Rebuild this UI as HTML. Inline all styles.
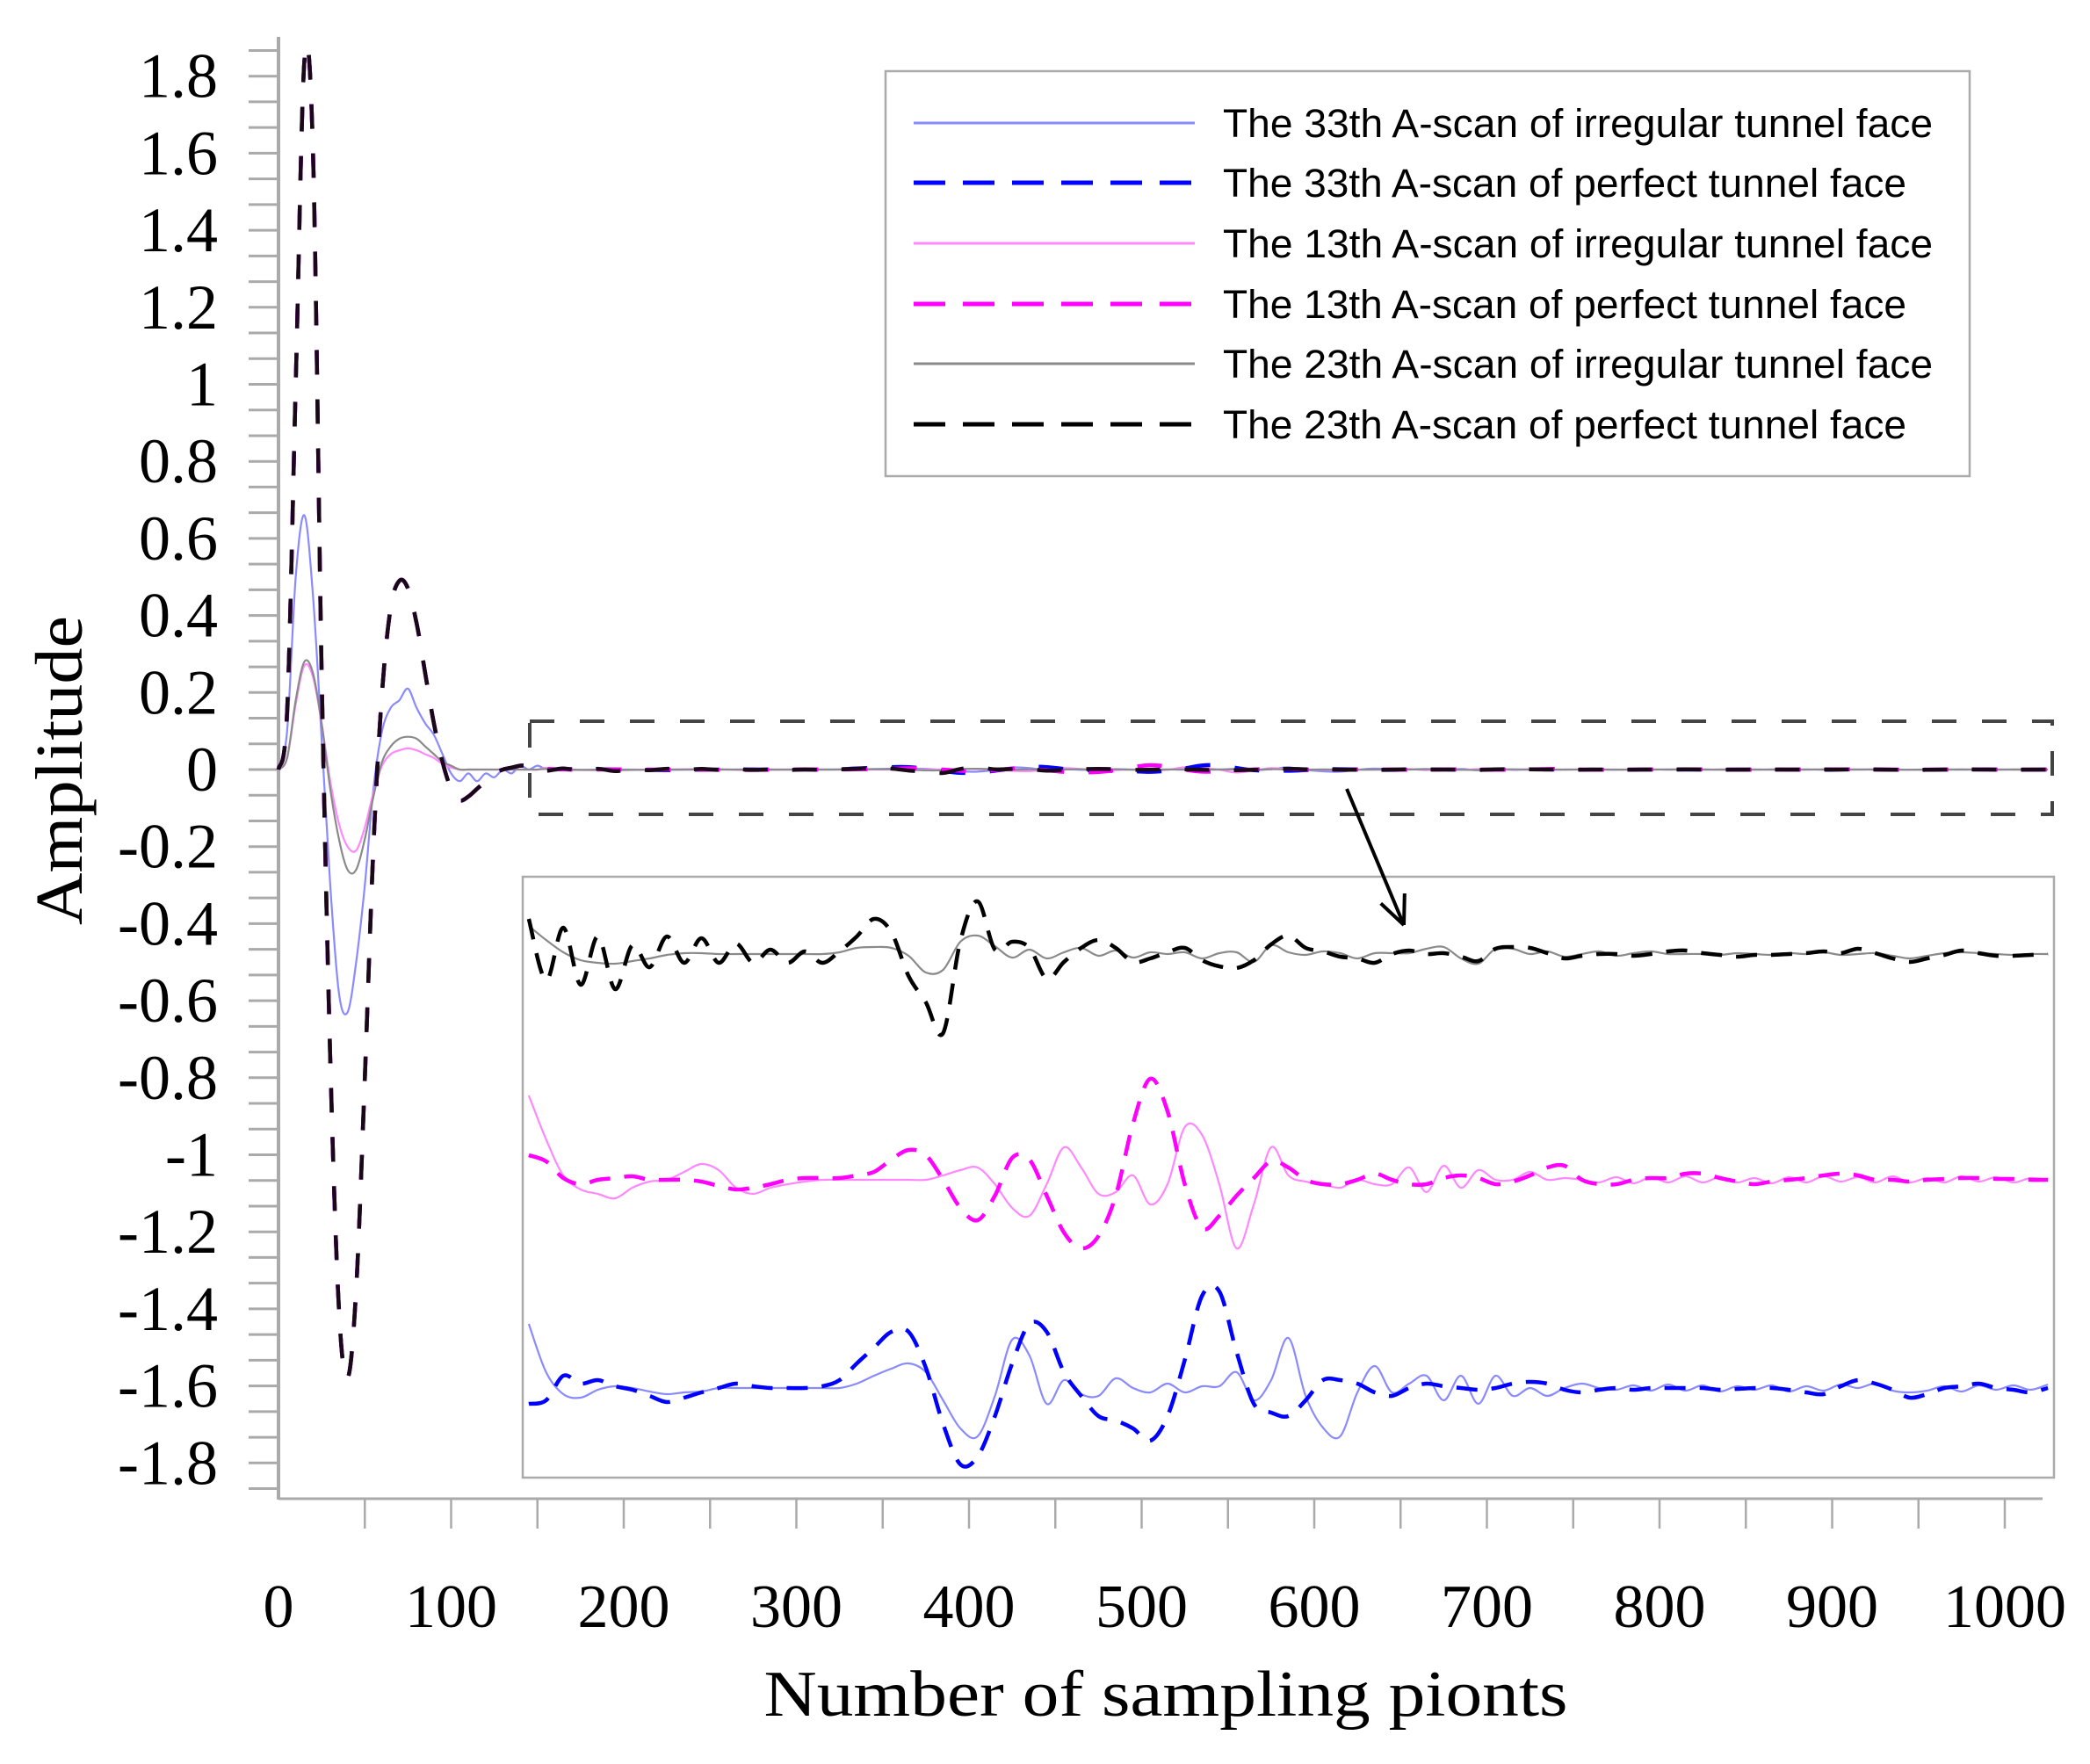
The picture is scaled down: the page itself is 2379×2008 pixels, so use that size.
<!DOCTYPE html>
<html>
<head>
<meta charset="utf-8">
<style>
html,body{margin:0;padding:0;background:#fff;}
svg{display:block;}
</style>
</head>
<body>
<svg id="chart" width="2379" height="2008" viewBox="0 0 2379 2008" xmlns="http://www.w3.org/2000/svg">
  <rect x="0" y="0" width="2379" height="2008" fill="#fff"/>
  <g id="axes"></g>
  <g id="main-series"></g>
  <rect x="603" y="821" width="1733" height="106" fill="none" stroke="#444" stroke-width="4" stroke-dasharray="28 29"/>
  <rect x="595" y="998" width="1743" height="684" fill="#fff" stroke="#aaa" stroke-width="2.5"/>
  <defs><clipPath id="insetClip"><rect x="597" y="1000" width="1739" height="680"/></clipPath></defs>
  <g id="inset-series" clip-path="url(#insetClip)"></g>
  <g id="arrow"></g>
  <g id="legend"></g>
  <text x="93" y="877" transform="rotate(-90 93 877)" text-anchor="middle" font-family="Liberation Serif, serif" font-size="76" textLength="352" lengthAdjust="spacingAndGlyphs" fill="#000">Amplitude</text>
  <text x="1327" y="1953" text-anchor="middle" font-family="Liberation Serif, serif" font-size="74" textLength="915" lengthAdjust="spacingAndGlyphs" fill="#000">Number of sampling pionts</text>
</svg>
<script>
// ---- data: main plot (samples 0..150, step 5), amplitude ----
const headSamples = [0,5,10,15,20,25,30,35,40,45,50,55,60,65,70,75,80,85,90,95,100,105,110,115,120,125,130,135,140,145,150];
const perfectHead = [0,0.15,1.0,1.84,1.6,0.25,-0.75,-1.4,-1.58,-1.35,-0.8,-0.2,0.2,0.42,0.49,0.47,0.38,0.25,0.12,0.02,-0.05,-0.08,-0.07,-0.05,-0.03,-0.01,0,0.005,0.01,0.01,0.005];
const blueSolidHead = [0,0.1,0.5,0.66,0.45,0.08,-0.3,-0.58,-0.63,-0.5,-0.3,-0.05,0.1,0.16,0.18,0.21,0.16,0.12,0.09,0.04,-0.01,-0.03,-0.01,-0.03,-0.01,-0.02,0,-0.01,0.01,0,0.01];
const graySolidHead = [0,0.03,0.18,0.28,0.25,0.12,-0.05,-0.18,-0.26,-0.26,-0.18,-0.07,0.02,0.06,0.08,0.085,0.08,0.06,0.04,0.02,0.01,0,0,0,0,0,0,0,0,0,0];
const magentaSolidHead = [0,0.03,0.17,0.27,0.24,0.12,-0.03,-0.14,-0.2,-0.21,-0.15,-0.06,0.01,0.04,0.05,0.055,0.05,0.04,0.03,0.015,0.005,0,0,0,0,0,0,0,0,0,0];

// ---- data: late-time traces (samples 145..1025, step 10), units of 1e-4 amplitude ----
const tailSamples = [];
for (let s = 145; s <= 1025; s += 10) tailSamples.push(s);
const blueSolidTail = [73,18,-7,-11,-2,2,0,-4,-7,-5,-4,0,0,0,0,0,0,0,0,5,14,22,28,18,-14,-46,-55,-9,55,37,-18,9,-7,-9,11,0,-5,5,-5,2,2,18,-14,9,57,-9,
  -45,-55,-5,25,-5,5,14,-14,14,-18,14,-9,0,-9,0,5,0,-2,3,-3,4,-3,3,-4,2,-2,3,-4,2,-3,4,0,5,-3,-5,-3,2,-4,3,-2,3,-2,4];
const blueDashedTail = [-18,-14,14,5,9,2,-2,-9,-16,-11,-5,0,5,2,0,0,0,2,9,28,46,64,64,23,-41,-87,-78,-32,28,73,64,18,-9,-32,-37,-46,-60,-32,32,105,110,41,-18,-28,-32,-14,
  9,9,5,-5,-9,0,5,2,0,-2,0,5,7,5,-2,-5,-2,0,-2,0,0,0,0,-2,-1,0,0,-2,-5,-7,2,9,5,-2,-11,-7,0,2,5,0,-2,-5,0];
const magentaSolidTail = [96,46,5,-11,-16,-21,-9,-2,0,9,18,11,-9,-16,-9,-5,-2,0,0,0,0,0,0,0,5,11,14,-5,-32,-41,-5,37,14,-16,-14,5,-28,-5,60,51,-5,-78,-28,37,5,-2,
  -5,-9,0,-5,-5,14,-14,16,-9,11,0,0,9,0,2,0,-3,3,-4,3,-3,4,-3,3,-3,2,-4,3,-3,4,-2,3,-3,4,-3,2,-3,4,-2,3,-3,2,0];
const magentaDashedTail = [28,21,2,-5,0,2,4,0,0,0,-2,-7,-11,-9,-5,0,2,2,2,5,9,23,34,28,0,-32,-46,-18,25,23,-18,-60,-78,-64,-18,64,115,78,-5,-55,-41,-18,2,21,14,0,
  -5,-5,0,7,0,-5,-5,2,5,2,-5,-2,5,14,16,0,-5,-5,0,2,2,7,7,2,-2,-5,-2,0,2,5,7,5,0,0,-2,0,1,2,2,1,1,0,0];
const graySolidTail = [32,16,2,-7,-10,-11,-8,-5,-1,1,1,0,0,0,0,0,0,0,2,7,8,7,-2,-21,-18,14,21,9,-4,5,-5,2,7,-2,4,-4,2,0,2,-5,1,2,-9,10,2,-1,
  3,1,-5,1,1,1,6,8,-5,-11,6,6,0,3,-3,0,3,-2,1,3,0,0,0,-1,1,0,-1,1,0,2,-1,0,1,-2,-5,-2,1,2,1,0,-1,0,0];
const blackDashedTail = [40,-30,30,-35,20,-40,10,-15,20,-10,18,-10,12,-10,5,-10,3,-10,3,20,40,25,-25,-55,-90,15,60,5,14,7,-28,-9,7,16,7,-9,-5,2,7,-7,-14,-16,-7,11,21,7,
  3,-3,-5,-10,0,4,0,1,-3,-8,6,8,7,1,-5,-2,0,0,-2,0,3,4,1,-1,-3,-1,-1,0,1,3,1,6,1,-5,-9,-5,-1,4,1,-2,-2,-1,0];

// ---- axis ticks / labels ----
const yTickLabels = ["1.8","1.6","1.4","1.2","1","0.8","0.6","0.4","0.2","0","-0.2","-0.4","-0.6","-0.8","-1","-1.2","-1.4","-1.6","-1.8"];
const yTickValues = [1.8,1.6,1.4,1.2,1,0.8,0.6,0.4,0.2,0,-0.2,-0.4,-0.6,-0.8,-1,-1.2,-1.4,-1.6,-1.8];
const xTickLabels = ["0","100","200","300","400","500","600","700","800","900","1000"];
const xTickValues = [0,100,200,300,400,500,600,700,800,900,1000];
const legendLabels = ["The 33th A-scan of irregular tunnel face","The 33th A-scan of perfect tunnel face","The 13th A-scan of irregular tunnel face","The 13th A-scan of perfect tunnel face","The 23th A-scan of irregular tunnel face","The 23th A-scan of perfect tunnel face"];

const NS = "http://www.w3.org/2000/svg";
const X0 = 317, XS = 1.965;
const Y0 = 876, YS = 438.5;
const xMain = s => X0 + s * XS;
const yMain = v => Y0 - v * YS;
const TAIL_UNIT = 1e-4;
const INSET_PX = 1.0;
const groupBase = {blue:1580, magenta:1343, black:1086};

function mk(tag, attrs, parent) {
  const el = document.createElementNS(NS, tag);
  for (const k in attrs) el.setAttribute(k, attrs[k]);
  parent.appendChild(el);
  return el;
}
function smoothPath(pts) {
  let d = "M" + pts[0][0].toFixed(1) + " " + pts[0][1].toFixed(1);
  for (let i = 0; i < pts.length - 1; i++) {
    const p0 = pts[i - 1] || pts[i], p1 = pts[i], p2 = pts[i + 1], p3 = pts[i + 2] || p2;
    const c1x = p1[0] + (p2[0] - p0[0]) / 6, c1y = p1[1] + (p2[1] - p0[1]) / 6;
    const c2x = p2[0] - (p3[0] - p1[0]) / 6, c2y = p2[1] - (p3[1] - p1[1]) / 6;
    d += "C" + c1x.toFixed(1) + " " + c1y.toFixed(1) + " " + c2x.toFixed(1) + " " + c2y.toFixed(1) + " " + p2[0].toFixed(1) + " " + p2[1].toFixed(1);
  }
  return d;
}

// ---- axes ----
const axes = document.getElementById("axes");
const yAxis = mk("line", {x1:X0, y1:42, x2:X0, y2:1707, stroke:"#aaa", "stroke-width":4}, axes);


const xAxis = mk("line", {x1:X0, y1:1706, x2:2325, y2:1706, stroke:"#aaa", "stroke-width":3}, axes);


for (let k = -28; k <= 28; k++) {
  const v = k / 15;
  const t = mk("line", {x1:X0 - 34, y1:yMain(v), x2:X0, y2:yMain(v), stroke:"#aaa", "stroke-width":3}, axes);
  
  
}
yTickValues.forEach((v, i) => {
  const t = mk("text", {x:248, y:yMain(v) + 24, "text-anchor":"end", "font-family":"Liberation Serif, serif", "font-size":72, fill:"#000"}, axes);
  t.textContent = yTickLabels[i];
  
  
});
for (let s = 50; s <= 1000; s += 50) {
  const t = mk("line", {x1:xMain(s), y1:1706, x2:xMain(s), y2:1740, stroke:"#aaa", "stroke-width":2.5}, axes);
  
  
}
xTickValues.forEach((s, i) => {
  const t = mk("text", {x:xMain(s), y:1852, "text-anchor":"middle", "font-family":"Liberation Serif, serif", "font-size":70, fill:"#000"}, axes);
  t.textContent = xTickLabels[i];
  
  
});

// ---- main plot series ----
const mainG = document.getElementById("main-series");
function mainPoints(head, tail) {
  const pts = head.map((v, i) => [xMain(headSamples[i]), yMain(v)]);
  tailSamples.forEach((s, i) => { if (s > 150) pts.push([xMain(s), yMain(tail[i] * TAIL_UNIT)]); });
  return pts;
}
const mainDefs = [
  {name:"main-blue-solid", head:blueSolidHead, tail:blueSolidTail, color:"#8a8aff", w:2.2, dash:null},
  {name:"main-magenta-solid", head:magentaSolidHead, tail:magentaSolidTail, color:"#ff88ff", w:2.2, dash:null},
  {name:"main-gray-solid", head:graySolidHead, tail:graySolidTail, color:"#8a8a8a", w:2.2, dash:null},
  {name:"main-blue-dashed", head:perfectHead, tail:blueDashedTail, color:"#0000ff", w:4.5, dash:"28 28"},
  {name:"main-magenta-dashed", head:perfectHead, tail:magentaDashedTail, color:"#ff00ff", w:4.5, dash:"28 28"},
  {name:"main-black-dashed", head:perfectHead, tail:blackDashedTail, color:"#1a0818", w:4.5, dash:"28 28"}
];
mainDefs.forEach(d => {
  const p = mk("path", {d:smoothPath(mainPoints(d.head, d.tail)), fill:"none", stroke:d.color, "stroke-width":d.w}, mainG);
  if (d.dash) p.setAttribute("stroke-dasharray", d.dash);
  
  
});

// ---- inset series ----
const insetG = document.getElementById("inset-series");
const insetDefs = [
  {name:"inset-blue-solid", data:blueSolidTail, base:groupBase.blue, color:"#8a8aff", w:2.2, dash:null},
  {name:"inset-blue-dashed", data:blueDashedTail, base:groupBase.blue, color:"#0000ff", w:4.5, dash:"24 16"},
  {name:"inset-magenta-solid", data:magentaSolidTail, base:groupBase.magenta, color:"#ff88ff", w:2.2, dash:null},
  {name:"inset-magenta-dashed", data:magentaDashedTail, base:groupBase.magenta, color:"#ff00ff", w:4.5, dash:"24 16"},
  {name:"inset-gray-solid", data:graySolidTail, base:groupBase.black, color:"#8a8a8a", w:2.2, dash:null},
  {name:"inset-black-dashed", data:blackDashedTail, base:groupBase.black, color:"#000", w:4.5, dash:"24 16"}
];
insetDefs.forEach(d => {
  const pts = tailSamples.map((s, i) => [xMain(s), d.base - d.data[i] * INSET_PX]);
  const p = mk("path", {d:smoothPath(pts), fill:"none", stroke:d.color, "stroke-width":d.w}, insetG);
  if (d.dash) p.setAttribute("stroke-dasharray", d.dash);
  
  
});

// ---- arrow ----
const arrowG = document.getElementById("arrow");
const ax1 = 1533, ay1 = 898, ax2 = 1598, ay2 = 1053;
const shaft = mk("line", {x1:ax1, y1:ay1, x2:ax2, y2:ay2, stroke:"#000", "stroke-width":4}, arrowG);


const ang = Math.atan2(ay2 - ay1, ax2 - ax1);
[0.42, -0.42].forEach(a => {
  const hx = ax2 - 36 * Math.cos(ang + a), hy = ay2 - 36 * Math.sin(ang + a);
  const h = mk("line", {x1:ax2, y1:ay2, x2:hx, y2:hy, stroke:"#000", "stroke-width":4}, arrowG);
  
  
});

// ---- legend ----
const legG = document.getElementById("legend");
const legBox = mk("rect", {x:1008, y:81, width:1234, height:461, fill:"#fff", stroke:"#aaa", "stroke-width":2.5}, legG);


const legendStyles = [
  {color:"#8a8aff", w:3, dash:null},
  {color:"#0000ff", w:5, dash:"36 20"},
  {color:"#ff88ff", w:3, dash:null},
  {color:"#ff00ff", w:5, dash:"36 20"},
  {color:"#8a8a8a", w:3, dash:null},
  {color:"#000", w:5, dash:"36 20"}
];
const legendRowY = [140, 208, 277, 346, 414, 483];
legendLabels.forEach((lab, i) => {
  const st = legendStyles[i];
  const y = legendRowY[i];
  const ln = mk("line", {x1:1040, y1:y, x2:1360, y2:y, stroke:st.color, "stroke-width":st.w}, legG);
  if (st.dash) ln.setAttribute("stroke-dasharray", st.dash);
  
  
  const t = mk("text", {x:1392, y:y + 16, "font-family":"Liberation Sans, Arial, sans-serif", "font-size":45, fill:"#000", textLength:(lab.indexOf("perfect") >= 0 ? 778 : 808), lengthAdjust:"spacingAndGlyphs"}, legG);
  t.textContent = lab;
  
  
});
</script>
</body>
</html>
